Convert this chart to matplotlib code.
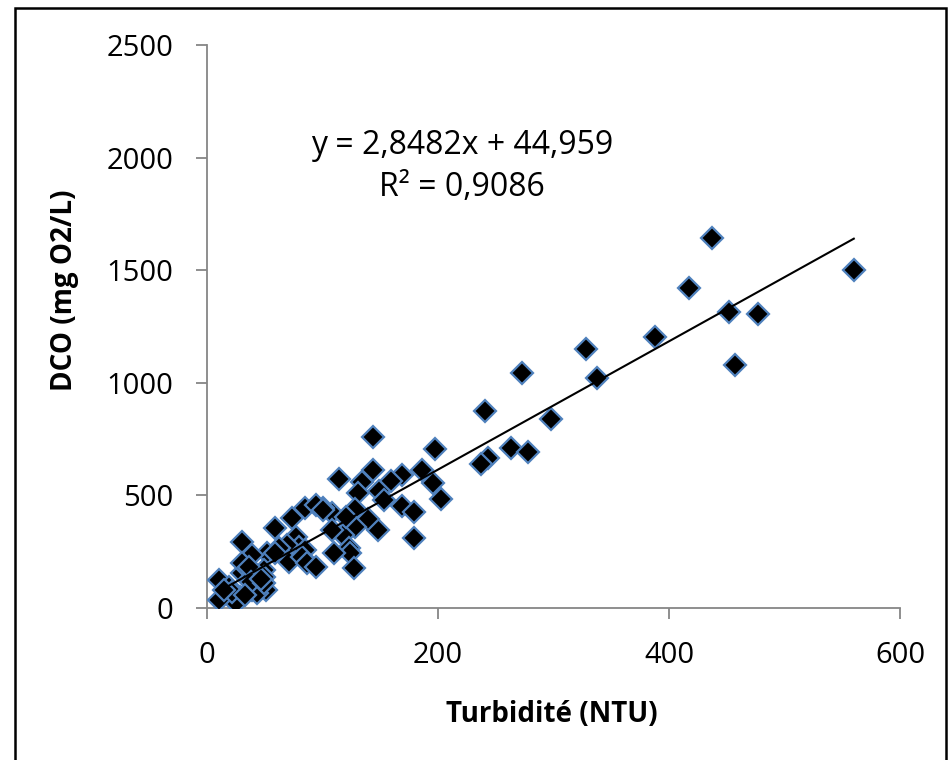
import matplotlib
matplotlib.use("Agg")
import matplotlib.pyplot as plt
from matplotlib.patches import Rectangle
import numpy as np

plt.rcParams['font.family'] = ['Open Sans', 'DejaVu Sans']

turbidite = [560, 437, 417, 452, 477, 457, 388, 328, 338, 273, 241, 298, 263, 278, 243, 237,
             144, 197, 114, 144, 134, 169, 159, 186, 196, 203, 149, 131, 153, 169, 179, 179,
             148, 139, 128, 128, 118, 108, 108, 123, 100, 124, 110, 127,
             30, 59, 74, 85, 94, 100, 120, 77, 80, 85, 69, 62, 71, 82, 87, 94, 52, 39, 49, 30,
             36, 49, 39, 51, 29, 25, 10, 10, 19, 22, 30, 36, 43, 59, 38, 49, 15, 33, 47]
dco = [1500, 1644, 1420, 1316, 1305, 1080, 1202, 1150, 1020, 1045, 876, 839, 712, 694, 667, 638,
       758, 705, 572, 612, 561, 591, 563, 615, 557, 483, 519, 510, 480, 455, 427, 310,
       346, 396, 440, 358, 324, 420, 346, 265, 443, 245, 243, 176,
       294, 357, 398, 443, 457, 435, 405, 317, 272, 258, 280, 265, 203, 228, 198, 183, 243, 235, 169, 154,
       124, 139, 80, 80, 50, 21, 124, 36, 95, 73, 198, 183, 65, 243, 117, 110, 80, 58, 128]

slope = 2.8482
intercept = 44.959
equation_text = "y = 2,8482x + 44,959\nR² = 0,9086"
x_ticks = [0, 200, 400, 600]
y_ticks = [0, 500, 1000, 1500, 2000, 2500]

fig = plt.figure(figsize=(9.49, 7.6), dpi=100)
ax = fig.add_axes([207/949, 1-608/760, (900-207)/949, (608-45)/760])

ax.plot(turbidite, dco, linestyle='none', marker='D', markersize=11.5,
        markerfacecolor='black', markeredgecolor='#4F81BD', markeredgewidth=1.6, zorder=3)

xs = np.array([min(turbidite), max(turbidite)])
ax.plot(xs, slope*xs + intercept, color='black', linewidth=1.5, zorder=4)

ax.set_xlim(0, 600)
ax.set_ylim(0, 2500)
ax.set_xticks(x_ticks)
ax.set_yticks(y_ticks)
ax.tick_params(axis='both', labelsize=21, color='#868686', width=1.3, length=8, direction='out')
ax.tick_params(axis='x', pad=16)
ax.tick_params(axis='y', pad=16)
for s in ['top', 'right']:
    ax.spines[s].set_visible(False)
for s in ['left', 'bottom']:
    ax.spines[s].set_color('#868686')
    ax.spines[s].set_linewidth(1.3)

ax.text(0.498, -0.19, 'Turbidité (NTU)', transform=ax.transAxes, fontsize=20,
        fontweight='bold', ha='center', va='center')
ax.text(-0.205, 0.565, 'DCO (mg O2/L)', transform=ax.transAxes, fontsize=20,
        fontweight='bold', ha='center', va='center', rotation=90)

ax.text(221, 1960, equation_text, fontsize=23, ha='center', va='center',
        linespacing=1.35, zorder=5)

fig.patches.append(Rectangle((15/949, -0.05), (946-15)/949, 1.05 - 8/760,
                             transform=fig.transFigure, fill=False,
                             edgecolor='black', linewidth=1.8))

fig.savefig('out.png', dpi=100)
